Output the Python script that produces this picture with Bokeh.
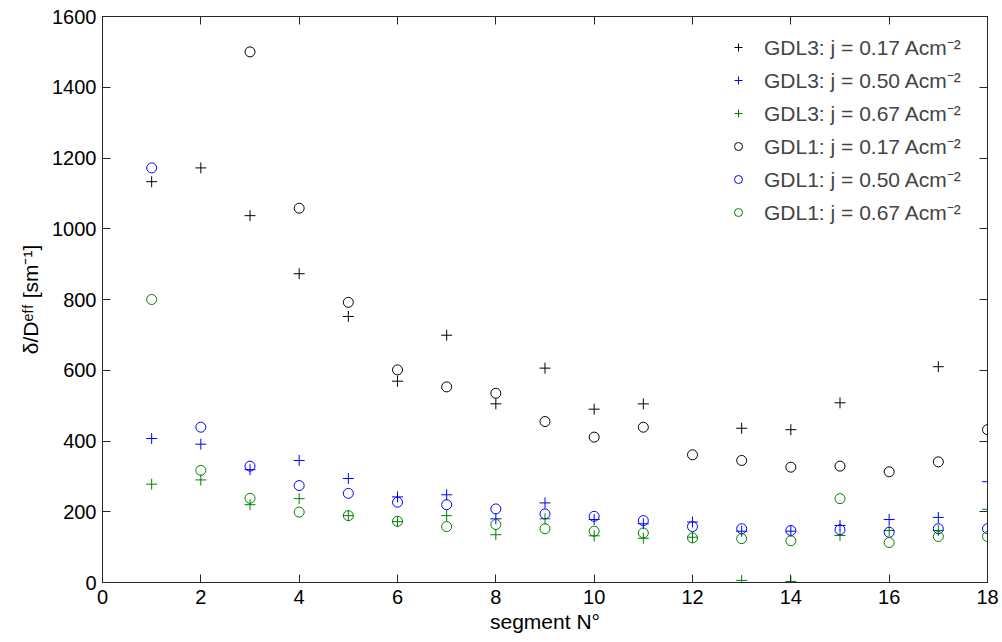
import numpy as np
from bokeh.plotting import figure
from bokeh.models import Legend, LegendItem, LinearAxis, FixedTicker, Range1d, CustomJSTickFormatter
from bokeh.embed import file_html
from bokeh.resources import INLINE

nan = float("nan")
segments = list(range(1, 19))

gdl3_017 = [1133, 1172, 1037, 873, 752, 569, 699, 505, 606, 490, 505, nan, 436, 432, 508, nan, 610, nan]
gdl3_050 = [407, 391, 319, 345, 294, 242, 248, 180, 225, 178, 166, 171, 145, 145, 161, 178, 184, 285]
gdl3_067 = [278, 290, 220, 237, 189, 172, 189, 135, 180, 132, 125, 128, 6, 3, 133, 147, 147, 207]
gdl1_017 = [nan, nan, 1500, 1058, 792, 601, 553, 535, 455, 411, 439, 361, 345, 326, 329, 313, 341, 432]
gdl1_050 = [1172, 439, 329, 274, 252, 227, 220, 208, 194, 187, 175, 158, 152, 147, 149, 142, 152, 152]
gdl1_067 = [800, 317, 238, 199, 189, 173, 158, 164, 152, 145, 140, 126, 124, 118, 237, 113, 130, 130]

x_ticks = list(range(0, 19, 2))
y_ticks = list(range(0, 1601, 200))

series = [
    ("GDL3: j = 0.17 Acm\u207b\u00b2", gdl3_017, "cross", "#000000"),
    ("GDL3: j = 0.50 Acm\u207b\u00b2", gdl3_050, "cross", "#0000ff"),
    ("GDL3: j = 0.67 Acm\u207b\u00b2", gdl3_067, "cross", "#008000"),
    ("GDL1: j = 0.17 Acm\u207b\u00b2", gdl1_017, "circle", "#000000"),
    ("GDL1: j = 0.50 Acm\u207b\u00b2", gdl1_050, "circle", "#0000ff"),
    ("GDL1: j = 0.67 Acm\u207b\u00b2", gdl1_067, "circle", "#008000"),
]

FONT = "Liberation Sans"
AX = "#262626"

p = figure(width=1000, height=640, output_backend="svg", toolbar_location=None,
           x_range=Range1d(0, 18), y_range=Range1d(0, 1600),
           min_border_left=102, min_border_right=13, min_border_top=16, min_border_bottom=58)
p.grid.visible = False
p.outline_line_color = AX
p.outline_line_width = 1

items = []
for label, vals, marker, color in series:
    if marker == "cross":
        r = p.scatter(segments, vals, marker="cross", size=11, line_color=color, line_width=1)
    else:
        r = p.scatter(segments, vals, marker="circle", size=10, line_color=color,
                      fill_color=None, line_width=1)
    items.append(LegendItem(label=label, renderers=[r]))

for ax in (p.xaxis[0], p.yaxis[0]):
    ax.major_tick_in = 8
    ax.major_tick_out = 0
    ax.minor_tick_line_color = None
    ax.axis_line_color = AX
    ax.major_tick_line_color = AX
    ax.major_label_text_font = FONT
    ax.major_label_text_font_size = "20px"
    ax.major_label_text_color = "#000000"
    ax.axis_label_text_font = FONT
    ax.axis_label_text_font_size = "21px"
    ax.axis_label_text_font_style = "normal"
    ax.axis_label_text_color = "#000000"

p.xaxis[0].ticker = FixedTicker(ticks=x_ticks)
p.yaxis[0].ticker = FixedTicker(ticks=y_ticks)
p.xaxis[0].axis_label = "segment N\u00b0"
p.yaxis[0].axis_label = "\u03b4/D\u1d49\u1da0\u1da0 [sm\u207b\u00b9]"
p.xaxis[0].major_label_standoff = 7
p.xaxis[0].axis_label_standoff = 3
p.yaxis[0].major_label_standoff = 6
p.yaxis[0].axis_label_standoff = 7

blank = CustomJSTickFormatter(code="return '';")
top = LinearAxis(ticker=FixedTicker(ticks=x_ticks), formatter=blank,
                 major_tick_in=8, major_tick_out=0, minor_tick_line_color=None,
                 axis_line_color=AX, major_tick_line_color=AX, major_label_standoff=0)
right = LinearAxis(ticker=FixedTicker(ticks=y_ticks), formatter=blank,
                   major_tick_in=8, major_tick_out=0, minor_tick_line_color=None,
                   axis_line_color=AX, major_tick_line_color=AX, major_label_standoff=0)
p.add_layout(top, "above")
p.add_layout(right, "right")

legend = Legend(items=items, location=(616, 346),
                label_text_font=FONT, label_text_font_size="21px",
                border_line_alpha=0, background_fill_alpha=0,
                glyph_width=20, glyph_height=20, label_height=20,
                spacing=5, label_standoff=16, margin=0, padding=10)
p.add_layout(legend)

open("out.html", "w").write(file_html(p, INLINE))
